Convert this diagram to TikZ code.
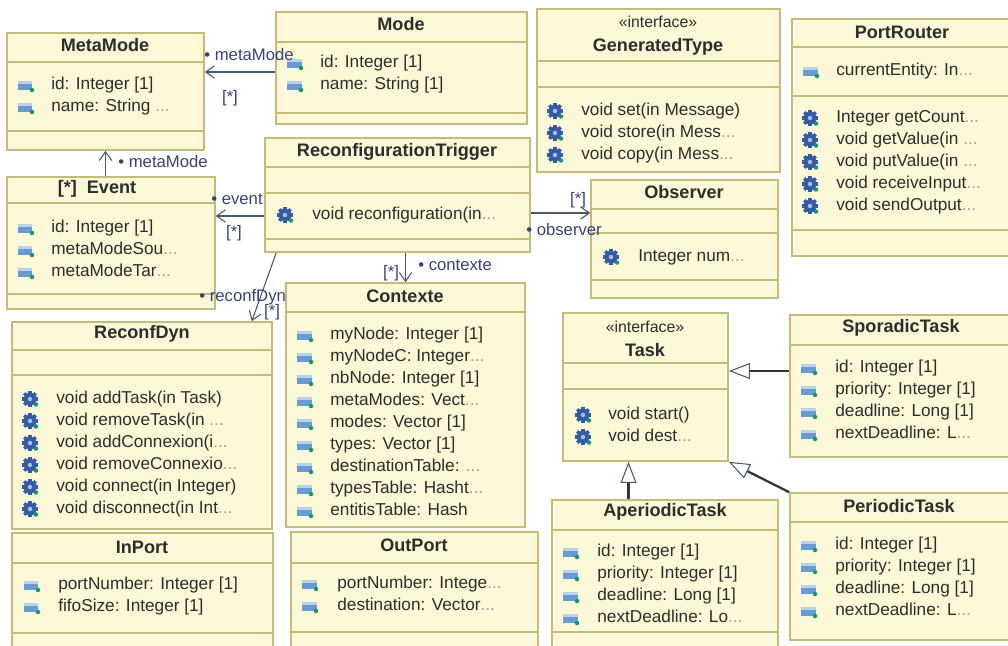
\documentclass[tikz,border=0pt]{standalone}
\usepackage{fontspec}
\setmainfont{Liberation Sans}
\usetikzlibrary{arrows.meta,fit}
\definecolor{classfill}{RGB}{250,248,214}
\definecolor{classline}{RGB}{196,186,122}
\definecolor{textcol}{RGB}{45,45,45}
\definecolor{linkcol}{RGB}{70,88,108}
\definecolor{labelcol}{RGB}{55,65,120}
\definecolor{dotscol}{RGB}{160,160,170}
\definecolor{attrblue}{RGB}{105,155,210}
\definecolor{gearblue}{RGB}{50,90,165}
\definecolor{icongreen}{RGB}{20,150,110}
\newcommand{\cutoff}{{\color{dotscol}...}}

\begin{document}
\begin{tikzpicture}[x=0.02cm, y=-0.02cm,
	classbox/.style={draw=classline, fill=classfill, line width=0.9pt, inner sep=0pt},
	divider/.style={draw=classline, line width=0.9pt},
	classtitle/.style={font=\fontsize{10.3}{12}\selectfont\bfseries, text=textcol, inner sep=0pt},
	stereo/.style={font=\fontsize{9}{11}\selectfont, text=textcol, inner sep=0pt},
	member/.style={font=\fontsize{9.8}{12}\selectfont, text=textcol, anchor=base west, inner sep=0pt, yshift=-0.09cm},
	endtext/.style={font=\fontsize{9.5}{11}\selectfont, text=labelcol, inner sep=0pt},
	assoc/.style={draw=linkcol, line width=0.6pt, -{Straight Barb[length=5pt,width=7pt]}},
	general/.style={draw=black!80, line width=1.3pt, -{Triangle[open, fill=white, length=12pt, width=9pt, line width=0.6pt, color=linkcol]}},
	attr icon/.pic={
		\fill[attrblue] (-0.15cm,-0.09cm) rectangle (0.15cm,0.09cm);
		\fill[attrblue!45] (-0.15cm,0.09cm) rectangle (0.15cm,0.03cm);
		\fill[icongreen] (0.14cm,-0.1cm) circle (0.045cm);},
	op icon/.pic={
		\foreach \a in {0,45,...,315}
			\fill[gearblue, rotate=\a] (-0.035cm,0) rectangle (0.035cm,0.16cm);
		\fill[gearblue] (0,0) circle (0.125cm);
		\fill[gearblue!40] (0,0) circle (0.045cm);
		\fill[icongreen] (0.12cm,-0.11cm) circle (0.045cm);}]
		\clip (0,0) rectangle (1008,646);
		\foreach \n/\xa/\ya/\xb/\yb in {metamode/7/33/204/150, mode/276/12/527/124,
		    gentype/537/9/780/172, portrouter/792/19/1012/256, trigger/265/138/530/252,
		    observer/591/180/778/298, event/7/177/215/309, contexte/286/283/525/527,
		    reconfdyn/12/322/272/529, inport/12/533/273/650, outport/291/532/538/650,
		    task/563/313/728/461, sporadic/790/315/1012/457, aperiodic/552/500/778/650,
		    periodic/790/493/1012/640}{
		  \node[classbox, fit={(\xa,\ya) (\xb,\yb)}] (\n) {};
		}
		\foreach \xa/\xb/\y in {7/204/62, 7/204/131, 276/527/42, 276/527/113, 537/780/61,
		    537/780/87, 792/1012/47, 792/1012/96, 792/1012/230, 265/530/167, 265/530/193,
		    265/530/239, 591/778/209, 591/778/233, 591/778/280, 7/215/203, 7/215/294,
		    286/525/312, 12/272/350, 12/272/375, 12/273/563, 12/273/633, 291/538/563,
		    291/538/632, 563/728/363, 563/728/389, 790/1012/345, 552/778/530, 552/778/632,
		    790/1012/522}{
		  \draw[divider] (\xa,\y) -- (\xb,\y);
		}
		\foreach \n/\x/\y/\t in {metamode/105/45/MetaMode, mode/401/24/Mode,
		    gentype/658/47/GeneratedType, portrouter/902/32/PortRouter,
		    trigger/397/152/ReconfigurationTrigger, observer/684/192/Observer,
		    event/97/189/{[*]~~Event}, contexte/405/296/Contexte, reconfdyn/142/334/ReconfDyn,
		    inport/142/547/InPort, outport/414/545/OutPort, task/645/350/Task,
		    sporadic/901/328/SporadicTask, aperiodic/665/512/AperiodicTask,
		    periodic/899/506/PeriodicTask}{
		  \node[classtitle] (\n-title) at (\x,\y) {\t};
		}
		\node[stereo] (gentype-stereo) at (658,22) {«interface»};
		\node[stereo] (task-stereo) at (645,327) {«interface»};
		% attributes
		\foreach \t [count=\i] in {id: Integer [1], name: String \cutoff}{
		  \pic at (25,63+22*\i) {attr icon}; \node[member] (metamode-a\i) at (51,63+22*\i) {\t};}
		\foreach \t [count=\i] in {id: Integer [1], name: String [1]}{
		  \pic at (294,41+22*\i) {attr icon}; \node[member] (mode-a\i) at (320,41+22*\i) {\t};}
		\foreach \t [count=\i] in {currentEntity: In\cutoff}{
		  \pic at (810,49+22*\i) {attr icon}; \node[member] (portrouter-a\i) at (836,49+22*\i) {\t};}
		\foreach \t [count=\i] in {id: Integer [1], metaModeSou\cutoff, metaModeTar\cutoff}{
		  \pic at (25,206+22*\i) {attr icon}; \node[member] (event-a\i) at (51,206+22*\i) {\t};}
		\begin{scope}
		  \clip (286,283) rectangle (525,525);
		  \foreach \t [count=\i] in {myNode: Integer [1], myNodeC: Integer\cutoff,
		      nbNode: Integer [1], metaModes: Vect\cutoff, modes: Vector [1], types: Vector [1],
		      destinationTable: \cutoff, typesTable: Hasht\cutoff, entitisTable: Hash}{
		    \pic at (304,313+22*\i) {attr icon}; \node[member] (contexte-a\i) at (330,313+22*\i) {\t};}
		\end{scope}
		\foreach \t [count=\i] in {portNumber: Integer [1], fifoSize: Integer [1]}{
		  \pic at (31,563+22*\i) {attr icon}; \node[member] (inport-a\i) at (58,563+22*\i) {\t};}
		\foreach \t [count=\i] in {portNumber: Intege\cutoff, destination: Vector\cutoff}{
		  \pic at (309,562+22*\i) {attr icon}; \node[member] (outport-a\i) at (337,562+22*\i) {\t};}
		\foreach \t [count=\i] in {id: Integer [1], priority: Integer [1], deadline: Long [1], nextDeadline: L\cutoff}{
		  \pic at (808,346+22*\i) {attr icon}; \node[member] (sporadic-a\i) at (835,346+22*\i) {\t};}
		\foreach \t [count=\i] in {id: Integer [1], priority: Integer [1], deadline: Long [1], nextDeadline: Lo\cutoff}{
		  \pic at (570,530+22*\i) {attr icon}; \node[member] (aperiodic-a\i) at (597,530+22*\i) {\t};}
		\foreach \t [count=\i] in {id: Integer [1], priority: Integer [1], deadline: Long [1], nextDeadline: L\cutoff}{
		  \pic at (808,523+22*\i) {attr icon}; \node[member] (periodic-a\i) at (835,523+22*\i) {\t};}
		% operations
		\foreach \t [count=\i] in {void set(in Message), void store(in Mess\cutoff, void copy(in Mess\cutoff}{
		  \pic at (555,89+22*\i) {op icon}; \node[member] (gentype-o\i) at (581,89+22*\i) {\t};}
		\foreach \t [count=\i] in {Integer getCount\cutoff, void getValue(in \cutoff, void putValue(in \cutoff,
		    void receiveInput\cutoff, void sendOutput\cutoff}{
		  \pic at (810,96+22*\i) {op icon}; \node[member] (portrouter-o\i) at (836,96+22*\i) {\t};}
		\foreach \t [count=\i] in {void reconfiguration(in\cutoff}{
		  \pic at (285,193+22*\i) {op icon}; \node[member] (trigger-o\i) at (312,193+22*\i) {\t};}
		\foreach \t [count=\i] in {Integer num\cutoff}{
		  \pic at (611,235+22*\i) {op icon}; \node[member] (observer-o\i) at (638,235+22*\i) {\t};}
		\foreach \t [count=\i] in {void addTask(in Task), void removeTask(in \cutoff, void addConnexion(i\cutoff,
		    void removeConnexio\cutoff, void connect(in Integer), void disconnect(in Int\cutoff}{
		  \pic at (30,377+22*\i) {op icon}; \node[member] (reconfdyn-o\i) at (56,377+22*\i) {\t};}
		\foreach \t [count=\i] in {void start(), void dest\cutoff}{
		  \pic at (583,393+22*\i) {op icon}; \node[member] (task-o\i) at (608,393+22*\i) {\t};}
		% associations
		\draw[assoc] ([yshift=-0.08cm]mode.west) -- ([yshift=-0.08cm]mode.west -| metamode.east);
		\draw[assoc] (metamode.south |- event.north) -- (metamode.south);
		\draw[assoc] ([yshift=-0.42cm]trigger.west) -- ([yshift=-0.42cm]trigger.west -| event.east);
		\draw[assoc] ([yshift=-0.36cm]trigger.east) -- ([yshift=-0.36cm]trigger.east -| observer.west);
		\draw[assoc] (contexte.north |- trigger.south) -- (contexte.north);
		\draw[assoc] ([xshift=0.24cm]trigger.south west) -- ([xshift=-0.42cm]reconfdyn.north east);
		% generalizations
		\draw[general] ([yshift=0.3cm]sporadic.west) -- ([yshift=0.3cm]sporadic.west -| task.east);
		\draw[general] ([xshift=-0.34cm]task.south |- aperiodic.north) -- ([xshift=-0.34cm]task.south);
		\draw[general] (periodic.north west) -- (task.south east);
		% association ends
		\node[endtext, anchor=west] (mm-role) at (204,55) {• metaMode};
		\node[endtext] (mm-mult) at (230,98) {[*]};
		\node[endtext, anchor=west] (evmm-role) at (118,162) {• metaMode};
		\node[endtext, anchor=west] (ev-role) at (211,199) {• event};
		\node[endtext] (ev-mult) at (234,233) {[*]};
		\node[endtext] (ob-mult) at (578,200) {[*]};
		\node[endtext, anchor=west] (ob-role) at (526,230) {• observer};
		\node[endtext] (cx-mult) at (391,273) {[*]};
		\node[endtext, anchor=west] (cx-role) at (418,265) {• contexte};
		\node[endtext, anchor=west] (rd-role) at (199,297) {• reconfDyn};
		\node[endtext] (rd-mult) at (272,312) {[*]};
	\end{tikzpicture}
\end{document}
